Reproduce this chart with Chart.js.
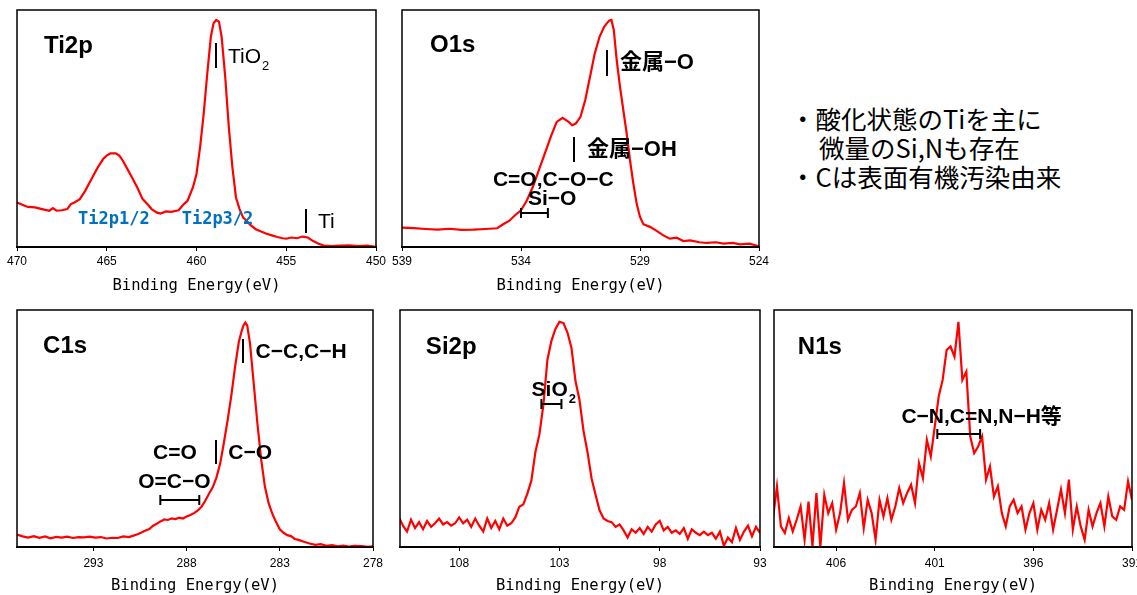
<!DOCTYPE html>
<html>
<head>
<meta charset="utf-8">
<script src="https://cdn.jsdelivr.net/npm/chart.js@4.4.0/dist/chart.umd.min.js"></script>
<style>
    body { margin: 0; width: 1137px; height: 595px; overflow: hidden; background: #fff; position: relative; }
    canvas { position: absolute; }
    .memo { position: absolute; font-family: "Noto Sans CJK JP", sans-serif; font-size: 25.5px; line-height: 29px; white-space: nowrap; color: #000; }
</style>
</head>
<body>
<canvas id="ti2pChart"></canvas>
<canvas id="o1sChart"></canvas>
<canvas id="c1sChart"></canvas>
<canvas id="si2pChart"></canvas>
<canvas id="n1sChart"></canvas>
<div class="memo" style="left:790px; top:103px;">・酸化状態のTiを主に</div>
<div class="memo" style="left:819px; top:132px;">微量のSi,Nも存在</div>
<div class="memo" style="left:790px; top:161px;">・Cは表面有機汚染由来</div>

<script>
// Spectra (intensity normalised: 0 = axis, 100 = top of frame)
const ti2pEnergy = [470.0, 469.7, 469.4, 469.0, 468.6, 468.2, 468.0, 467.8, 467.5, 467.2, 467.0, 466.8, 466.5, 466.2, 466.0, 465.7, 465.5, 465.2, 465.0, 464.8, 464.5, 464.3, 464.1, 463.9, 463.6, 463.3, 463.0, 462.7, 462.5, 462.2, 462.0, 461.7, 461.4, 461.0, 460.7, 460.5, 460.2, 460.0, 459.8, 459.6, 459.4, 459.2, 459.05, 458.9, 458.75, 458.6, 458.4, 458.2, 458.0, 457.8, 457.6, 457.4, 457.2, 457.0, 456.7, 456.4, 456.1, 455.8, 455.5, 455.2, 455.0, 454.7, 454.4, 454.1, 453.8, 453.5, 453.2, 452.9, 452.5, 452.0, 451.5, 451.0, 450.5, 450.0];
const ti2pCounts = [18.8, 17.8, 16.9, 16.7, 16.0, 15.3, 16.4, 15.3, 15.5, 16.0, 18.1, 18.8, 20.2, 23.7, 26.6, 30.8, 33.6, 37.1, 38.6, 39.5, 39.5, 38.6, 36.4, 33.6, 29.4, 25.1, 20.2, 17.8, 16.0, 14.5, 14.1, 15.0, 14.8, 15.5, 18.1, 19.5, 25.1, 30.8, 42.1, 56.2, 73.2, 88.7, 94.4, 95.8, 95.1, 88.7, 71.8, 50.6, 33.6, 20.9, 16.0, 12.4, 11.0, 9.3, 7.5, 6.5, 5.6, 4.9, 4.2, 3.7, 3.5, 4.0, 3.7, 4.4, 4.0, 2.5, 1.4, 0.6, 0.4, 0.6, 0.7, 0.4, 0.6, 0.1];

const o1sEnergy = [539.0, 538.5, 538.0, 537.5, 537.0, 536.5, 536.0, 535.5, 535.0, 534.75, 534.5, 534.25, 534.0, 533.75, 533.5, 533.25, 533.0, 532.75, 532.5, 532.25, 532.0, 531.85, 531.7, 531.5, 531.3, 531.1, 530.9, 530.7, 530.5, 530.3, 530.2, 530.1, 529.98, 529.84, 529.7, 529.56, 529.42, 529.28, 529.14, 529.0, 528.86, 528.58, 528.3, 528.02, 527.74, 527.46, 527.18, 526.9, 526.5, 526.2, 525.8, 525.5, 525.1, 524.8, 524.4, 524.0];
const o1sCounts = [8.2, 8.0, 7.6, 7.3, 7.7, 7.2, 7.3, 7.6, 7.9, 9.6, 11.0, 13.4, 15.5, 19.7, 25.4, 32.4, 39.4, 46.5, 52.8, 54.5, 52.8, 51.4, 52.1, 54.9, 62.0, 71.8, 81.7, 88.7, 93.0, 95.5, 95.8, 91.5, 78.9, 67.6, 57.7, 47.9, 36.6, 26.8, 18.3, 12.7, 9.6, 8.5, 6.8, 4.9, 3.5, 3.9, 2.5, 2.8, 2.0, 1.7, 2.0, 1.4, 1.7, 1.1, 1.4, 0.3];

const c1sEnergy = [297.1, 296.8, 296.5, 296.2, 295.9, 295.6, 295.3, 295.0, 294.7, 294.4, 294.1, 293.8, 293.5, 293.2, 292.9, 292.6, 292.3, 292.0, 291.7, 291.4, 291.1, 290.85, 290.6, 290.4, 290.2, 290.0, 289.8, 289.6, 289.4, 289.2, 289.0, 288.8, 288.6, 288.4, 288.2, 288.0, 287.8, 287.6, 287.4, 287.2, 287.0, 286.8, 286.6, 286.4, 286.2, 286.0, 285.8, 285.6, 285.4, 285.2, 285.05, 284.95, 284.85, 284.75, 284.6, 284.4, 284.2, 284.0, 283.8, 283.6, 283.4, 283.2, 283.0, 282.8, 282.6, 282.4, 282.2, 282.0, 281.7, 281.4, 281.1, 280.8, 280.5, 280.2, 279.9, 279.6, 279.3, 279.0, 278.6, 278.3, 278.0];
const c1sCounts = [5.2, 4.5, 4.0, 4.6, 3.9, 4.5, 3.7, 4.3, 4.0, 4.4, 3.8, 4.2, 4.1, 4.4, 4.0, 4.2, 3.6, 3.9, 3.8, 4.5, 4.2, 4.8, 5.5, 6.2, 7.0, 7.6, 9.0, 9.8, 10.8, 11.6, 11.4, 12.1, 11.8, 12.4, 12.0, 12.9, 13.5, 14.3, 15.4, 17.0, 19.5, 22.5, 25.2, 29.3, 35.2, 44.0, 53.5, 64.0, 76.0, 86.5, 91.0, 93.5, 94.7, 93.5, 86.0, 69.0, 52.0, 37.0, 25.5, 18.5, 14.0, 10.5, 7.5, 6.0, 5.0, 4.6, 3.4, 3.0, 2.2, 1.5, 0.9, 1.2, 0.5, 0.8, 0.3, 0.6, 0.2, 0.5, 0.4, 0.1, 0.3];

const si2pEnergy = [111.0, 110.8, 110.6, 110.4, 110.2, 110.0, 109.8, 109.6, 109.4, 109.2, 109.0, 108.8, 108.6, 108.4, 108.2, 108.0, 107.8, 107.6, 107.4, 107.2, 107.0, 106.8, 106.6, 106.4, 106.2, 106.0, 105.8, 105.6, 105.4, 105.2, 105.0, 104.8, 104.6, 104.4, 104.2, 104.0, 103.8, 103.6, 103.4, 103.2, 103.0, 102.8, 102.6, 102.4, 102.2, 102.0, 101.8, 101.6, 101.4, 101.2, 101.0, 100.8, 100.6, 100.4, 100.2, 100.0, 99.8, 99.6, 99.4, 99.2, 99.0, 98.8, 98.6, 98.4, 98.2, 98.0, 97.8, 97.6, 97.4, 97.2, 97.0, 96.8, 96.6, 96.4, 96.2, 96.0, 95.8, 95.6, 95.4, 95.2, 95.0, 94.8, 94.6, 94.4, 94.2, 94.0, 93.8, 93.6, 93.4, 93.2, 93.0];
const si2pCounts = [12.5, 9.0, 6.5, 11.5, 8.0, 10.5, 7.5, 11.0, 8.5, 10.0, 12.0, 9.5, 10.5, 9.0, 10.0, 12.5, 10.0, 11.5, 8.5, 12.0, 9.0, 6.5, 12.0, 8.0, 11.0, 7.5, 12.0, 9.0, 10.0, 12.5, 17.0, 18.0, 22.5, 28.0, 40.0, 47.5, 60.0, 79.0, 87.0, 92.0, 95.0, 94.5, 90.5, 84.0, 70.0, 62.0, 49.0, 40.0, 29.0, 22.0, 15.5, 12.0, 11.0, 10.5, 8.5, 9.5, 7.0, 4.0, 7.5, 6.0, 8.0, 5.5, 8.5, 6.5, 9.5, 11.0, 7.0, 8.5, 6.0, 7.0, 5.5, 8.0, 3.5, 7.5, 6.0, 5.0, 6.5, 5.0, 6.0, 3.5, 6.5, 0.5, 4.0, 2.0, 8.0, 3.0, 6.5, 9.0, 4.5, 8.5, 6.0];

const n1sEnergy = [409.2, 409.0, 408.8, 408.6, 408.4, 408.2, 408.0, 407.8, 407.6, 407.4, 407.2, 407.0, 406.8, 406.6, 406.4, 406.2, 406.0, 405.8, 405.6, 405.4, 405.2, 405.0, 404.8, 404.6, 404.4, 404.2, 404.0, 403.8, 403.6, 403.4, 403.2, 403.0, 402.8, 402.6, 402.4, 402.2, 402.0, 401.8, 401.6, 401.4, 401.2, 401.0, 400.8, 400.6, 400.4, 400.2, 400.0, 399.8, 399.6, 399.4, 399.2, 399.0, 398.8, 398.6, 398.4, 398.2, 398.0, 397.8, 397.6, 397.4, 397.2, 397.0, 396.8, 396.6, 396.4, 396.2, 396.0, 395.8, 395.6, 395.4, 395.2, 395.0, 394.8, 394.6, 394.4, 394.2, 394.0, 393.8, 393.6, 393.4, 393.2, 393.0, 392.8, 392.6, 392.4, 392.2, 392.0, 391.8, 391.6, 391.4, 391.2, 391.0];
const n1sCounts = [12.2, 25.6, 8.7, 5.9, 12.2, 6.6, 11.5, 17.1, 3.1, 19.2, 0.3, 22.8, 0.0, 22.0, 14.3, 18.5, 7.3, 14.3, 27.0, 11.5, 15.7, 17.1, 22.8, 8.0, 19.9, 14.3, 3.1, 19.9, 12.9, 20.6, 11.5, 17.1, 24.9, 18.5, 22.8, 26.3, 18.5, 35.4, 29.1, 45.2, 38.2, 50.8, 63.5, 70.5, 83.1, 84.6, 80.3, 95.0, 70.5, 74.0, 46.6, 39.6, 42.4, 46.6, 28.4, 34.0, 21.3, 25.6, 14.3, 8.7, 17.1, 19.9, 14.3, 17.1, 7.3, 14.3, 18.5, 7.3, 15.7, 11.5, 18.5, 7.3, 15.7, 24.2, 14.3, 28.4, 7.3, 17.1, 8.7, 3.1, 15.7, 8.7, 14.3, 18.5, 8.7, 21.3, 12.9, 11.5, 17.1, 15.7, 27.7, 19.9];

// Tick labels on each energy axis
const ti2pTicks = [470, 465, 460, 455, 450];
const o1sTicks = [539, 534, 529, 524];
const c1sTicks = [293, 288, 283, 278];
const si2pTicks = [108, 103, 98, 93];
const n1sTicks = [406, 401, 396, 391];

const RED = '#ff0000';
const BLUE = '#0070c0';
const TITLE_FONT = 'bold 24px "Liberation Sans", sans-serif';
const LABEL_FONT = 'bold 21px "Liberation Sans", "Noto Sans CJK JP", sans-serif';
const JP_FONT = 'bold 22px "Liberation Sans", "Noto Sans CJK JP", sans-serif';
const PLAIN_FONT = '21px "Liberation Sans", sans-serif';
const BLUE_FONT = 'bold 17px "DejaVu Sans Mono", monospace';

// Peak labels, placed in data coordinates (energy, intensity)
const ti2pNotes = [
    { text: 'Ti2p', e: 468.5, v: 84.8, font: TITLE_FONT },
    { bar: true, e: 458.9, v1: 86.1, v2: 75.5 },
    { text: 'TiO', sub: '2', e: 458.25, v: 80.2, font: PLAIN_FONT },
    { text: 'Ti2p1/2', e: 464.6, v: 11.4, font: BLUE_FONT, color: BLUE, align: 'center' },
    { text: 'Ti2p3/2', e: 458.83, v: 11.4, font: BLUE_FONT, color: BLUE, align: 'center' },
    { bar: true, e: 453.9, v1: 16.0, v2: 5.9 },
    { text: 'Ti', e: 453.23, v: 10.5, font: PLAIN_FONT }
];
const o1sNotes = [
    { text: 'O1s', e: 537.82, v: 85.2, font: TITLE_FONT },
    { bar: true, e: 530.39, v1: 83.1, v2: 72.2 },
    { text: '金属−O', e: 529.84, v: 77.6, font: JP_FONT },
    { bar: true, e: 531.77, v1: 46.4, v2: 35.9 },
    { text: '金属−OH', e: 531.23, v: 40.9, font: JP_FONT },
    { text: 'C=O,C−O−C', e: 535.18, v: 28.3, font: LABEL_FONT },
    { text: 'Si−O', e: 533.71, v: 20.3, font: LABEL_FONT },
    { bracket: [534.0, 532.87], v: 14.3 }
];
const c1sNotes = [
    { text: 'C1s', e: 295.7, v: 84.8, font: TITLE_FONT },
    { bar: true, e: 284.95, v1: 87.8, v2: 77.6 },
    { text: 'C−C,C−H', e: 284.3, v: 82.3, font: LABEL_FONT },
    { bar: true, e: 286.4, v1: 45.1, v2: 35.0 },
    { text: 'C−O', e: 285.76, v: 39.7, font: LABEL_FONT },
    { text: 'C=O', e: 289.8, v: 39.7, font: LABEL_FONT },
    { text: 'O=C−O', e: 290.6, v: 27.4, font: LABEL_FONT },
    { bracket: [289.41, 287.32], v: 19.8 }
];
const si2pNotes = [
    { text: 'Si2p', e: 109.66, v: 84.4, font: TITLE_FONT },
    { text: 'SiO', sub: '2', e: 104.39, v: 66.2, font: LABEL_FONT },
    { bracket: [103.9, 102.9], v: 60.3 }
];
const n1sNotes = [
    { text: 'N1s', e: 407.94, v: 84.4, font: TITLE_FONT },
    { text: 'C−N,C=N,N−H等', e: 402.69, v: 54.9, font: LABEL_FONT },
    { bracket: [400.87, 398.7], v: 47.7 }
];

/**
 * Draws the plot frame and the peak annotations
 */
const xpsNotes = {
    id: 'xpsNotes',
    afterDatasetsDraw(chart, args, opts) {
        const { ctx, chartArea: a, scales: { x, y } } = chart;
        ctx.save();
        ctx.strokeStyle = '#000';
        ctx.lineWidth = 1.5;
        ctx.strokeRect(a.left, a.top, a.right - a.left, a.bottom - a.top);

        ctx.lineWidth = 2;
        (opts.items || []).forEach(n => {
            if (n.bar) {
                const px = Math.round(x.getPixelForValue(n.e));
                ctx.beginPath();
                ctx.moveTo(px, y.getPixelForValue(n.v1));
                ctx.lineTo(px, y.getPixelForValue(n.v2));
                ctx.stroke();
            } else if (n.bracket) {
                const x1 = x.getPixelForValue(n.bracket[0]);
                const x2 = x.getPixelForValue(n.bracket[1]);
                const py = Math.round(y.getPixelForValue(n.v));
                ctx.beginPath();
                ctx.moveTo(x1, py); ctx.lineTo(x2, py);
                ctx.moveTo(x1, py - 5); ctx.lineTo(x1, py + 5);
                ctx.moveTo(x2, py - 5); ctx.lineTo(x2, py + 5);
                ctx.stroke();
            } else {
                const px = x.getPixelForValue(n.e);
                const py = y.getPixelForValue(n.v);
                ctx.font = n.font;
                ctx.fillStyle = n.color || '#000';
                ctx.textAlign = n.align || 'left';
                ctx.textBaseline = 'middle';
                ctx.fillText(n.text, px, py);
                if (n.sub) {
                    const w = ctx.measureText(n.text).width;
                    ctx.font = n.font.replace(/\d+px/, '13px');
                    ctx.fillText(n.sub, px + w + 1, py + 9);
                }
            }
        });
        ctx.restore();
    }
};

const AXIS_HEIGHT = 50;
const SIDE = 30;

function makeSpectrum(canvasId, box, energy, counts, range, tickValues, notes, tickPad) {
    const canvas = document.getElementById(canvasId);
    canvas.width = box.right - box.left + SIDE * 2;
    canvas.height = box.bottom - box.top + 10 + AXIS_HEIGHT;
    canvas.style.left = (box.left - SIDE) + 'px';
    canvas.style.top = (box.top - 10) + 'px';

    const points = energy.map((e, i) => ({ x: e, y: counts[i] }));

    return new Chart(canvas, {
        type: 'line',
        data: {
            datasets: [{
                data: points,
                borderColor: RED,
                borderWidth: 2.2,
                pointRadius: 0,
                tension: 0,
                fill: false
            }]
        },
        options: {
            responsive: false,
            animation: false,
            events: [],
            layout: { padding: { left: SIDE, right: SIDE, top: 10, bottom: 0 } },
            plugins: {
                legend: { display: false },
                tooltip: { enabled: false },
                xpsNotes: { items: notes }
            },
            scales: {
                x: {
                    type: 'linear',
                    reverse: true,
                    min: range[0],
                    max: range[1],
                    afterBuildTicks: axis => { axis.ticks = tickValues.map(v => ({ value: v })); },
                    afterFit: axis => { axis.height = AXIS_HEIGHT; },
                    grid: { drawOnChartArea: false, drawTicks: true, tickLength: 4, color: '#000' },
                    border: { display: true, color: '#000', width: 2 },
                    ticks: {
                        autoSkip: false,
                        maxRotation: 0,
                        padding: tickPad,
                        color: '#000',
                        font: { family: '"Liberation Sans", sans-serif', size: 12 },
                        callback: v => v
                    },
                    title: {
                        display: true,
                        text: 'Binding Energy(eV)',
                        color: '#000',
                        font: { family: '"DejaVu Sans Mono", monospace', size: 15.5 },
                        padding: { top: 0, bottom: 2 }
                    }
                },
                y: { display: false, min: 0, max: 100 }
            }
        },
        plugins: [xpsNotes]
    });
}

makeSpectrum('ti2pChart', { left: 17, top: 10, right: 376, bottom: 247 }, ti2pEnergy, ti2pCounts, [450, 470], ti2pTicks, ti2pNotes, 3);
makeSpectrum('o1sChart', { left: 402, top: 10, right: 759, bottom: 247 }, o1sEnergy, o1sCounts, [524, 539], o1sTicks, o1sNotes, 3);
makeSpectrum('c1sChart', { left: 17, top: 310, right: 373, bottom: 547 }, c1sEnergy, c1sCounts, [278, 297.1], c1sTicks, c1sNotes, 5);
makeSpectrum('si2pChart', { left: 400, top: 310, right: 760, bottom: 547 }, si2pEnergy, si2pCounts, [93, 110.95], si2pTicks, si2pNotes, 5);
makeSpectrum('n1sChart', { left: 774, top: 310, right: 1132, bottom: 547 }, n1sEnergy, n1sCounts, [391, 409.15], n1sTicks, n1sNotes, 5);
</script>
</body>
</html>
